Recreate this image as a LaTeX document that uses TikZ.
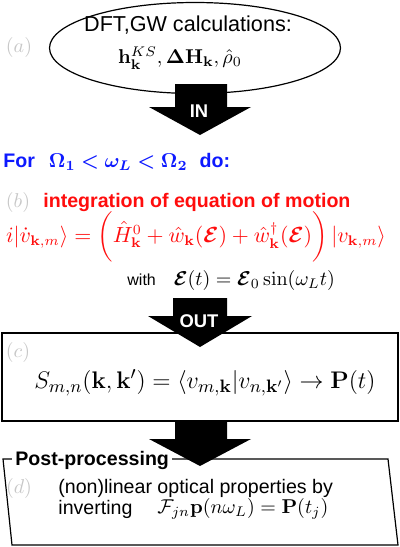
\documentclass[tikz,border=0pt]{standalone}
\usepackage[no-math]{fontspec}
\setsansfont{Liberation Sans}
\usepackage{amssymb,amsmath,bm}
\usepackage{xcolor}
\usetikzlibrary{shapes.geometric,positioning}

\definecolor{taggray}{gray}{0.78}
\definecolor{forblue}{rgb}{0.05,0.1,1}
\definecolor{eomred}{rgb}{1,0.05,0.05}
\tikzset{
  txt/.style={font=\sffamily\fontsize{9.8}{12}\selectfont, inner sep=0pt},
  bigtxt/.style={font=\sffamily\fontsize{10.8}{13}\selectfont, inner sep=0pt},
  boldtxt/.style={font=\sffamily\bfseries\fontsize{9.8}{12}\selectfont, inner sep=0pt},
  tag/.style={text=taggray, inner sep=0pt},
  fatarrow/.style={fill=black},
  arrlbl/.style={text=white, font=\sffamily\bfseries\fontsize{9.2}{11}\selectfont, inner sep=0pt}
}

\begin{document}
\begin{tikzpicture}[x=0.5pt,y=-0.5pt]
\useasboundingbox (0,0) rectangle (400,547);

% (a) input from DFT
\node[ellipse,draw,line width=0.6pt,minimum width=145.5pt,minimum height=45.5pt,inner sep=0pt] (dft) at (195,48) {};
\node[bigtxt] (dfttitle) at (188,25) {DFT,GW calculations:};
\node[inner sep=0pt] (dftdata) at (180,58) {$\mathbf{h}^{KS}_{\mathbf{k}},\mathbf{\Delta H}_{\mathbf{k}},\hat{\rho}_0$};
\node[tag] (taga) at (19,47) {$(a)$};

\fill[fatarrow] (175,84) -- (227,84) -- (227,107) -- (251,107) -- (200,135) -- (149,107) -- (175,107) -- cycle;
\node[arrlbl] (inlbl) at (199,111) {IN};

% loop over laser frequencies
\node[boldtxt,text=forblue,anchor=west] (forline) at (3,162)
  {For\hspace{7pt}$\boldsymbol{\Omega_1<\omega_L<\Omega_2}$\hspace{6pt}do:};

% (b) equation of motion
\node[tag] (tagb) at (18,202) {$(b)$};
\node[boldtxt,text=eomred,anchor=west] (eomtitle) at (43,202) {integration of equation of motion};
\node[inner sep=0pt,text=eomred,font=\fontsize{10.5}{13}\selectfont] (eom) at (196,237)
  {$i|\dot{v}_{\mathbf{k},m}\rangle=\bigg(\hat{H}^0_{\mathbf{k}}+\hat{w}_{\mathbf{k}}(\bm{\mathcal{E}})+\hat{w}^{\dagger}_{\mathbf{k}}(\bm{\mathcal{E}})\bigg)\,|v_{\mathbf{k},m}\rangle$};
\node[inner sep=0pt,anchor=west] (field) at (127,280)
  {{\sffamily\fontsize{8}{10}\selectfont with}\hspace{9pt}$\bm{\mathcal{E}}(t)=\bm{\mathcal{E}}_0\sin(\omega_L t)$};

% (c) overlaps and polarization
\node[draw,line width=0.8pt,minimum width=198pt,minimum height=44pt,inner sep=0pt] (overlap) at (200,377) {};
\fill[fatarrow] (173,298) -- (227,298) -- (227,316) -- (252,316) -- (200,347) -- (148,316) -- (173,316) -- cycle;
\node[arrlbl] (outlbl) at (199,321) {OUT};
\node[tag] (tagc) at (18,352) {$(c)$};
\node[inner sep=0pt,font=\fontsize{12.9}{15}\selectfont] (smn) at (205,383)
  {$S_{m,n}(\mathbf{k},\mathbf{k}')=\langle v_{m,\mathbf{k}}|v_{n,\mathbf{k}'}\rangle\to\mathbf{P}(t)$};

% (d) post-processing
\draw[line width=0.6pt] (3,459) -- (388,459) -- (398,545) -- (12,545) -- cycle;
\node[boldtxt,fill=white,inner xsep=1.5pt,inner ysep=0pt,anchor=west] (post) at (12,460) {Post-processing};
\fill[fatarrow] (175,421) -- (227,421) -- (227,439) -- (251,439) -- (200,466) -- (149,439) -- (175,439) -- cycle;
\node[tag] (tagd) at (19,488) {$(d)$};
\node[txt,anchor=west] (optics) at (58,488) {(non)linear optical properties by};
\node[txt,anchor=west] (invert) at (58,509) {inverting};
\node[inner sep=0pt,anchor=west] (fourier) at (157,509) {$\mathcal{F}_{jn}\mathbf{p}(n\omega_L)=\mathbf{P}(t_j)$};
\end{tikzpicture}
\end{document}
